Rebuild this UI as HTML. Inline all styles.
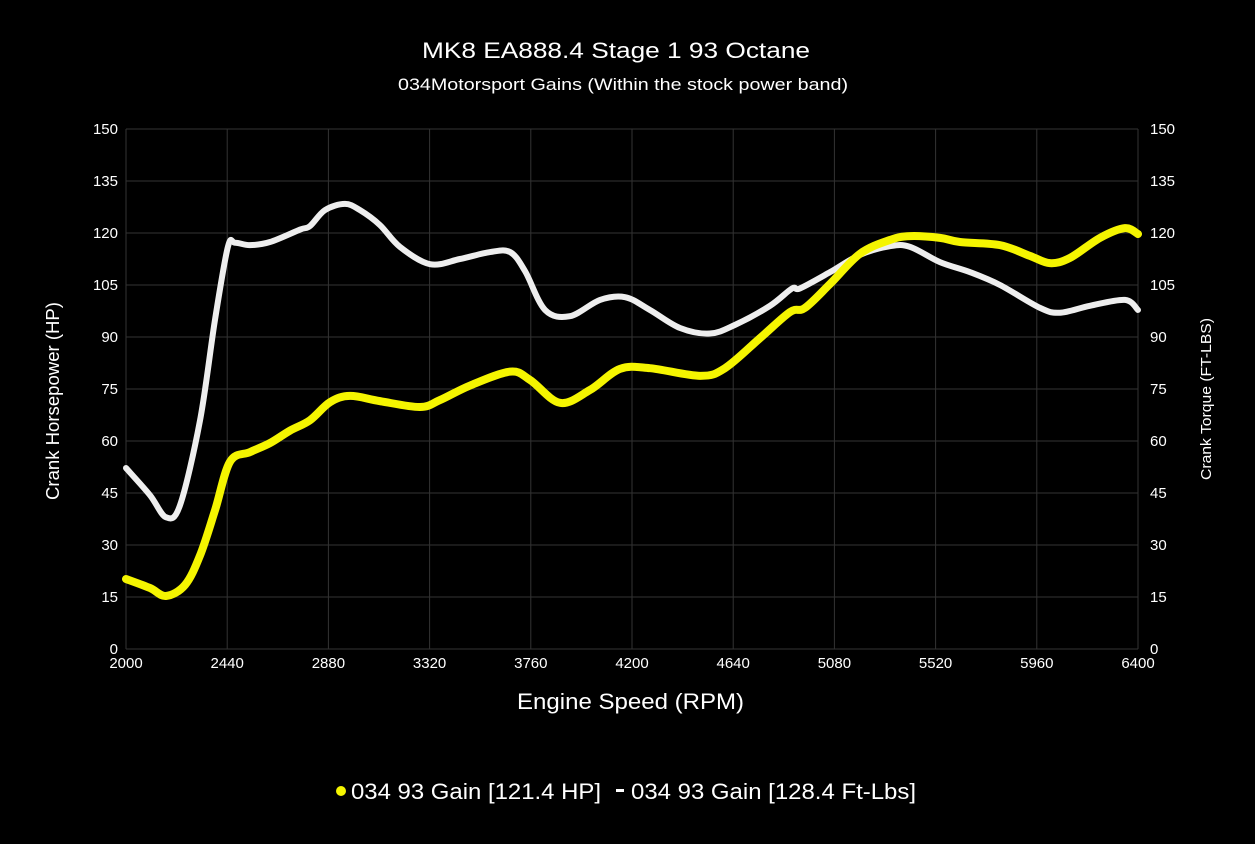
<!DOCTYPE html>
<html><head><meta charset="utf-8"><style>
html,body{margin:0;padding:0;background:#000;}
svg{display:block;font-family:"Liberation Sans",Arial,sans-serif;}
</style></head><body>
<svg id="chart" width="1255" height="844" viewBox="0 0 1255 844">
<rect width="1255" height="844" fill="#000"/>
<text x="422" y="58" fill="#fff" font-size="22" textLength="388" lengthAdjust="spacingAndGlyphs">MK8 EA888.4 Stage 1 93 Octane</text>
<text x="398" y="90" fill="#fff" font-size="17" textLength="450" lengthAdjust="spacingAndGlyphs">034Motorsport Gains (Within the stock power band)</text>
<g id="grid"></g>
<g id="ticks"></g>
<g id="series"></g>
<text x="517" y="709" fill="#fff" font-size="22" textLength="227" lengthAdjust="spacingAndGlyphs">Engine Speed (RPM)</text>
<text transform="translate(59,500) rotate(-90)" fill="#fff" font-size="18" textLength="198" lengthAdjust="spacingAndGlyphs">Crank Horsepower (HP)</text>
<text transform="translate(1211,480) rotate(-90)" fill="#fff" font-size="15" textLength="162" lengthAdjust="spacingAndGlyphs">Crank Torque (FT-LBS)</text>
<g>
<g><circle cx="341" cy="791" r="5" fill="#f5f500"/><text x="351" y="799" fill="#fff" font-size="22" textLength="250" lengthAdjust="spacingAndGlyphs">034 93 Gain [121.4 HP]</text></g>
<g><rect x="616" y="789" width="8" height="3" fill="#fff"/><text x="631" y="799" fill="#fff" font-size="22" textLength="285" lengthAdjust="spacingAndGlyphs">034 93 Gain [128.4 Ft-Lbs]</text></g>
</g>
</svg>
<script>
const xTicks=[2000,2440,2880,3320,3760,4200,4640,5080,5520,5960,6400];
const yTicks=[0,15,30,45,60,75,90,105,120,135,150];
const hpRpm=[2000,2104,2174,2257,2322,2387,2452,2539,2626,2713,2800,2887,2974,3104,3278,3365,3496,3670,3757,3887,4017,4148,4278,4496,4604,4757,4887,4952,5061,5191,5322,5409,5539,5626,5800,5930,6017,6104,6235,6343,6400];
const hpVal=[20.2,17.6,15.3,18.5,27,40,54,56.8,59.4,63,66,71.2,73,71.5,69.8,71.8,76,80,77.6,71,74.7,80.8,81,78.8,81,89.7,97.2,98.4,105.3,114,118,119.1,118.6,117.4,116.5,113.4,111.3,112.8,118.6,121.4,119.7];
const tqRpm=[2000,2104,2174,2235,2322,2387,2443,2474,2539,2626,2757,2800,2865,2952,3017,3104,3191,3322,3452,3583,3670,3735,3822,3930,4061,4170,4278,4409,4539,4648,4800,4896,4930,5061,5191,5322,5409,5539,5670,5800,5974,6061,6191,6343,6400];
const tqVal=[52.2,44.4,38,41.5,66,95,116,117.2,116.5,117.4,121,122,126.6,128.4,126.6,122.3,116,111,112.5,114.5,114.5,109,97.8,96,100.7,101.5,97.8,92.6,91,93.5,99,104,104,108.7,113.7,116.2,116,111.6,108.7,105,98.4,97,99,100.7,97.8];
const NS='http://www.w3.org/2000/svg';
const X0=126,X1=1138,Y0=649,Y1=129;
function xs(r){return X0+(r-2000)/(6400-2000)*(X1-X0);}
function ys(v){return Y0-(v/150)*(Y0-Y1);}
const grid=document.getElementById('grid'),ticks=document.getElementById('ticks'),series=document.getElementById('series');
function mk(tag,attrs,parent){const e=document.createElementNS(NS,tag);for(const k in attrs)e.setAttribute(k,attrs[k]);parent.appendChild(e);return e;}
xTicks.forEach(t=>{
const l=mk('line',{x1:xs(t),x2:xs(t),y1:Y1,y2:Y0,stroke:'#333','stroke-width':1},grid);


const tx=mk('text',{x:xs(t),y:Y0+19,fill:'#fff','font-size':15,'text-anchor':'middle'},ticks);
tx.textContent=t;


});
yTicks.forEach(t=>{
const l=mk('line',{x1:X0,x2:X1,y1:ys(t),y2:ys(t),stroke:'#333','stroke-width':1},grid);


const a=mk('text',{x:X0-8,y:ys(t)+5,fill:'#fff','font-size':15,'text-anchor':'end'},ticks);
a.textContent=t;


const b=mk('text',{x:X1+12,y:ys(t)+5,fill:'#fff','font-size':15},ticks);
b.textContent=t;


});
function smooth(rs,vs){
const p=rs.map((r,i)=>[xs(r),ys(vs[i])]);
let d='M'+p[0][0]+','+p[0][1];
for(let i=0;i<p.length-1;i++){
const p0=p[i-1]||p[i],p1=p[i],p2=p[i+1],p3=p[i+2]||p2;
const c1=[p1[0]+(p2[0]-p0[0])/6,p1[1]+(p2[1]-p0[1])/6];
const c2=[p2[0]-(p3[0]-p1[0])/6,p2[1]-(p3[1]-p1[1])/6];
d+=' C'+c1+' '+c2+' '+p2;
}
return d;
}
const tq=mk('path',{d:smooth(tqRpm,tqVal),fill:'none',stroke:'#eeeeee','stroke-width':6,'stroke-linejoin':'round','stroke-linecap':'round'},series);


const hp=mk('path',{d:smooth(hpRpm,hpVal),fill:'none',stroke:'#f5f500','stroke-width':8,'stroke-linejoin':'round','stroke-linecap':'round'},series);


</script>
</body></html>
